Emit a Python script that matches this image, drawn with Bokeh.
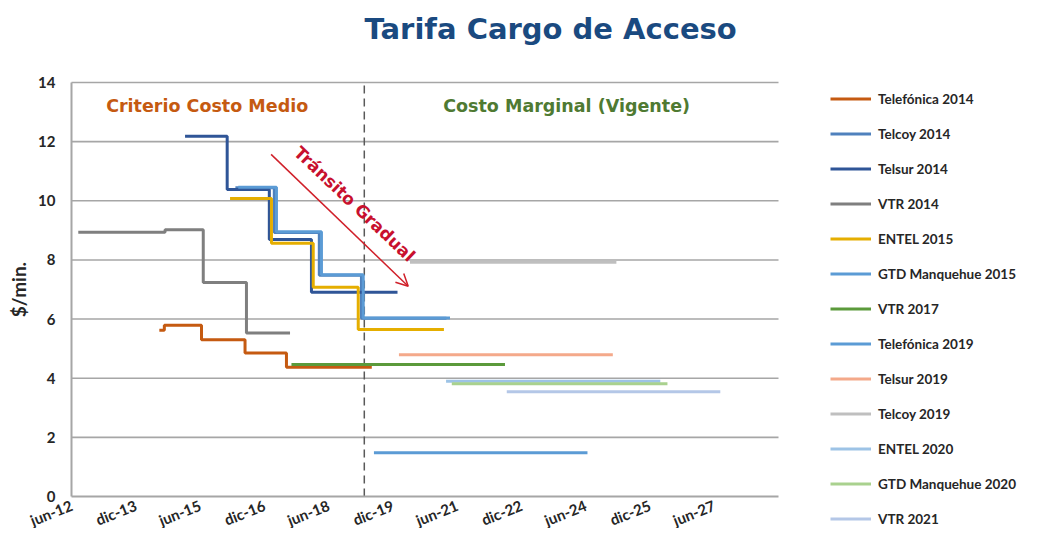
from bokeh.plotting import figure
from bokeh.models import (Range1d, FixedTicker, Label, Arrow, OpenHead,
                          Legend, LegendItem, Title)
from bokeh.embed import file_html
from bokeh.resources import INLINE

# ---------------- data (x = months elapsed since June 2012) ----------------
tick_months = [0, 18, 36, 54, 72, 90, 108, 126, 144, 162, 180]
tick_labels = ["jun-12", "dic-13", "jun-15", "dic-16", "jun-18", "dic-19",
               "jun-21", "dic-22", "jun-24", "dic-25", "jun-27"]
y_ticks = [0, 2, 4, 6, 8, 10, 12, 14]
x_axis_end = 198          # dic-28
y_axis_end = 14

series_names = ["Telefónica 2014", "Telcoy 2014", "Telsur 2014", "VTR 2014",
                "ENTEL 2015", "GTD Manquehue 2015", "VTR 2017",
                "Telefónica 2019", "Telsur 2019", "Telcoy 2019", "ENTEL 2020",
                "GTD Manquehue 2020", "VTR 2021"]

# breakpoints (months) and tariff level ($/min.) valid between them
telefonica_2014_breaks = [24.6, 26.0, 36.4, 48.6, 60.2, 84.1]
telefonica_2014_levels = [5.62, 5.79, 5.30, 4.85, 4.37]
telcoy_2014_breaks = [45.9, 56.8, 69.4, 81.2, 105.0]
telcoy_2014_levels = [10.44, 8.93, 7.48, 6.03]
telsur_2014_breaks = [31.8, 43.6, 55.4, 67.2, 91.3]
telsur_2014_levels = [12.18, 10.38, 8.69, 6.91]
vtr_2014_breaks = [1.9, 26.2, 36.9, 49.0, 61.2]
vtr_2014_levels = [8.94, 9.02, 7.24, 5.53]
entel_2015_breaks = [44.4, 56.0, 67.7, 80.3, 104.3]
entel_2015_levels = [10.08, 8.56, 7.08, 5.65]
gtd_2015_breaks = [46.7, 57.4, 70.0, 81.7, 106.0]
gtd_2015_levels = [10.46, 8.95, 7.50, 6.04]
vtr_2017_breaks = [61.6, 121.4]
vtr_2017_levels = [4.46]
telefonica_2019_breaks = [84.7, 144.5]
telefonica_2019_levels = [1.48]
telsur_2019_breaks = [91.7, 151.6]
telsur_2019_levels = [4.79]
telcoy_2019_breaks = [94.8, 152.6]
telcoy_2019_levels = [7.92]
entel_2020_breaks = [104.9, 164.9]
entel_2020_levels = [3.90]
gtd_2020_breaks = [106.5, 166.9]
gtd_2020_levels = [3.81]
vtr_2021_breaks = [121.9, 181.7]
vtr_2021_levels = [3.54]

regime_change_month = 82.0

all_breaks = [telefonica_2014_breaks, telcoy_2014_breaks, telsur_2014_breaks,
              vtr_2014_breaks, entel_2015_breaks, gtd_2015_breaks,
              vtr_2017_breaks, telefonica_2019_breaks, telsur_2019_breaks,
              telcoy_2019_breaks, entel_2020_breaks, gtd_2020_breaks,
              vtr_2021_breaks]
all_levels = [telefonica_2014_levels, telcoy_2014_levels, telsur_2014_levels,
              vtr_2014_levels, entel_2015_levels, gtd_2015_levels,
              vtr_2017_levels, telefonica_2019_levels, telsur_2019_levels,
              telcoy_2019_levels, entel_2020_levels, gtd_2020_levels,
              vtr_2021_levels]

colors = ["#C55A11", "#4F81BD", "#2F5597", "#7F7F7F", "#E5AE00", "#5B9BD5",
          "#5B9A3B", "#5B9BD5", "#F4A98A", "#BFBFBF", "#9DC3E6", "#A9D18E",
          "#B4C7E7"]


def step_path(breaks, levels):
    xs, ys = [], []
    for i, lv in enumerate(levels):
        xs += [breaks[i], breaks[i + 1]]
        ys += [lv, lv]
    return xs, ys


# layout geometry (pixels): chart area 707 x 414 inside a wider frame
FRAME_W, FRAME_H = 1018, 456
TOP = 65
AXIS_X0 = 71          # frame-left to y axis
AXIS_TOP_PAD = 10     # frame-top to the 14 gridline
PLOT_W, PLOT_H = 707, 414
px_per_x = PLOT_W / x_axis_end
px_per_y = PLOT_H / y_axis_end
x_view_start = -AXIS_X0 / px_per_x
x_view_end = x_view_start + FRAME_W / px_per_x
y_view_end = y_axis_end + AXIS_TOP_PAD / px_per_y
y_view_start = y_view_end - FRAME_H / px_per_y

p = figure(frame_width=FRAME_W, frame_height=FRAME_H, output_backend="svg",
           toolbar_location=None,
           x_range=Range1d(x_view_start, x_view_end),
           y_range=Range1d(y_view_start, y_view_end),
           min_border_left=0, min_border_right=0, min_border_top=TOP,
           min_border_bottom=0)
p.outline_line_color = None
p.background_fill_color = "white"
p.grid.visible = False

# title (outermost) plus an empty spacer panel between title and frame
p.title.text = "Tarifa Cargo de Acceso"
p.title.text_font = "DejaVu Sans"
p.title.text_font_style = "bold"
p.title.text_font_size = "29px"
p.title.text_color = "#1A4A80"
p.title.align = "left"
p.title.offset = 364
p.title.standoff = 18
p.add_layout(Title(text=" ", text_font_size="2px", standoff=14), "above")

# axes, pinned to the origin
xa = p.xaxis[0]
ya = p.yaxis[0]
xa.fixed_location = 0
ya.fixed_location = 0
xa.bounds = (0, x_axis_end)
ya.bounds = (0, y_axis_end)
xa.ticker = FixedTicker(ticks=tick_months)
xa.major_label_overrides = {m: l for m, l in zip(tick_months, tick_labels)}
xa.major_label_orientation = 0.38
ya.ticker = FixedTicker(ticks=y_ticks)
for ax in (xa, ya):
    ax.major_tick_line_color = None
    ax.minor_tick_line_color = None
    ax.major_tick_out = 0
    ax.major_tick_in = 0
    ax.minor_tick_out = 0
    ax.minor_tick_in = 0
    ax.axis_line_color = "#A6A6A6"
    ax.axis_line_width = 2
    ax.major_label_text_font = "Lato"
    ax.major_label_text_font_style = "bold"
    ax.major_label_text_font_size = "15px"
    ax.major_label_text_color = "#262626"
xa.major_label_standoff = 8
ya.major_label_standoff = 16
ya.axis_label = "$/min."
ya.axis_label_text_font = "Lato"
ya.axis_label_text_font_style = "bold"
ya.axis_label_text_font_size = "19px"
ya.axis_label_text_color = "#262626"
ya.axis_label_standoff = 5

# horizontal gridlines over the chart area only
p.segment(x0=[0] * len(y_ticks[1:]), x1=[x_axis_end] * len(y_ticks[1:]),
          y0=y_ticks[1:], y1=y_ticks[1:], line_color="#A6A6A6", line_width=1.6)

# regime change marker
p.segment(x0=[regime_change_month], x1=[regime_change_month], y0=[0],
          y1=[y_axis_end], line_color="#595959", line_width=1.5,
          line_dash="8 5")

items = []
for name, br, lv, col in zip(series_names, all_breaks, all_levels, colors):
    xs, ys = step_path(br, lv)
    r = p.line(xs, ys, line_color=col, line_width=3)
    items.append(LegendItem(label=name, renderers=[r]))

legend = Legend(items=items, location=(830, -1), margin=0, padding=0,
                glyph_width=41, glyph_height=21, label_height=21, spacing=14,
                label_standoff=7, border_line_color=None,
                background_fill_alpha=0,
                label_text_font="Lato", label_text_font_style="bold",
                label_text_font_size="13.5px", label_text_color="#262626")
p.add_layout(legend)

# annotations
p.add_layout(Label(x=9.7, y=13.19, text="Criterio Costo Medio",
                   text_font="DejaVu Sans", text_font_style="bold",
                   text_font_size="17.5px", text_color="#C55A11",
                   text_baseline="middle"))
p.add_layout(Label(x=104.1, y=13.19, text="Costo Marginal (Vigente)",
                   text_font="DejaVu Sans", text_font_style="bold",
                   text_font_size="17.5px", text_color="#4F7A32",
                   text_baseline="middle"))
p.add_layout(Arrow(end=OpenHead(size=12, line_color="#D0202A", line_width=1.5),
                   x_start=55.9, y_start=11.57, x_end=94.3, y_end=7.11,
                   line_color="#D0202A", line_width=1.5))
p.add_layout(Label(x=79.3, y=9.89, text="Tránsito Gradual", angle=-0.757,
                   angle_units="rad", text_align="center",
                   text_baseline="middle", text_font="DejaVu Sans",
                   text_font_style="bold", text_font_size="17px",
                   text_color="#C8102E"))

open("out.html", "w").write(file_html(p, INLINE))
